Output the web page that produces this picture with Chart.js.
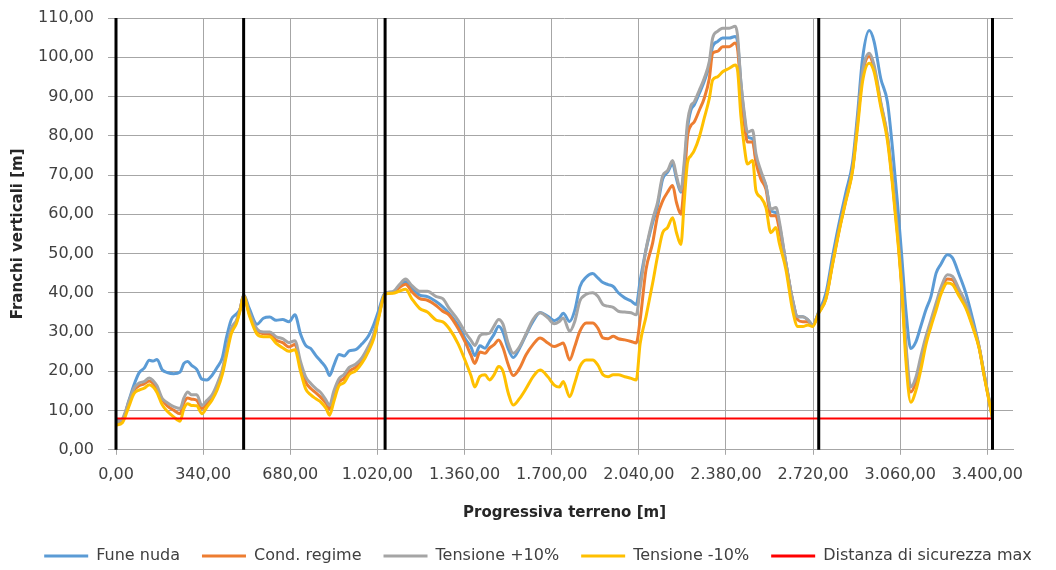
<!DOCTYPE html>
<html>
<head>
<meta charset="utf-8">
<script src="https://cdn.jsdelivr.net/npm/chart.js@4.4.1/dist/chart.umd.min.js"></script>
<style>
  html, body { margin: 0; padding: 0; background: #fff; }
  #wrap { width: 1056px; height: 570px; }
</style>
</head>
<body>
<div id="wrap"><canvas id="franchi" width="1056" height="570"></canvas></div>
<script>
// Progressiva [m]
const progressiva = [
  0, 25, 50, 70, 90, 110, 130, 145, 160, 180,
  200, 225, 250, 265, 280, 295, 315, 335, 355, 375,
  395, 415, 430, 450, 470, 485, 498, 520, 550, 575,
  600, 625, 650, 675, 698, 720, 740, 760, 780, 800,
  820, 833, 850, 870, 890, 910, 935, 960, 985, 1005,
  1025, 1050, 1080, 1105, 1130, 1155, 1185, 1215, 1250, 1275,
  1300, 1335, 1365, 1385, 1400, 1420, 1440, 1457, 1475, 1493,
  1510, 1530, 1550, 1575, 1600, 1627, 1655, 1685, 1710, 1730,
  1745, 1770, 1790, 1810, 1835, 1860, 1880, 1900, 1920, 1940,
  1960, 1985, 2010, 2030, 2045, 2068, 2094, 2113, 2133, 2152,
  2172, 2187, 2204, 2217, 2230, 2243, 2256, 2276, 2295, 2315,
  2328, 2347, 2367, 2393, 2416, 2425, 2438, 2451, 2464, 2484,
  2497, 2516, 2536, 2555, 2575, 2588, 2614, 2640, 2660, 2680,
  2700, 2718, 2742, 2770, 2796, 2822, 2848, 2874, 2893, 2913,
  2939, 2958, 2984, 3010, 3030, 3049, 3066, 3082, 3101, 3121,
  3140, 3160, 3180, 3200, 3218, 3244, 3264, 3290, 3316, 3342,
  3368, 3387, 3400, 3420
];

const funeNuda = [
  7.5, 7.6, 12.5, 16.5, 19.6, 20.8, 22.8, 22.6, 23.0, 20.4,
  19.7, 19.4, 19.8, 22.0, 22.5, 21.5, 20.5, 18.0, 17.8, 19.0,
  21.0, 23.5, 28.3, 33.2, 34.6, 36.0, 39.5, 36.0, 32.0, 33.5,
  33.8, 33.0, 33.2, 32.6, 34.4, 29.5, 26.6, 25.8, 24.0, 22.5,
  20.8, 18.9, 21.5, 24.3, 23.9, 25.2, 25.5, 27.0, 29.0, 31.8,
  35.5, 40.0, 40.2, 41.5, 42.8, 41.0, 39.4, 39.0, 37.7, 36.4,
  34.7, 31.7, 28.0, 26.2, 24.0, 26.5, 25.9, 27.6, 29.4, 31.5,
  30.0, 25.8, 23.5, 25.9, 29.3, 32.7, 35.0, 34.0, 32.9, 33.6,
  34.8, 32.7, 35.5, 41.5, 44.0, 44.9, 43.8, 42.6, 42.1, 41.6,
  40.0, 38.7, 37.9, 37.0, 43.0, 51.0, 57.9, 62.1, 69.0, 70.7,
  72.8, 69.0, 65.6, 71.5, 81.8, 86.5, 87.8, 90.8, 93.8, 98.0,
  102.7, 104.0, 104.9, 104.9, 105.3, 104.0, 93.8, 85.2, 79.7, 79.2,
  74.1, 70.3, 67.3, 60.9, 60.4, 57.4, 47.6, 38.2, 33.9, 33.9,
  33.1, 31.8, 35.2, 39.9, 49.3, 57.9, 65.6, 73.2, 85.2, 99.7,
  106.8, 104.0, 94.6, 88.6, 76.7, 63.0, 49.3, 35.6, 25.8, 27.5,
  31.4, 35.6, 39.1, 45.0, 47.2, 49.7, 48.9, 44.6, 39.9, 33.5,
  26.2, 19.4, 15.1, 8.3
];

const condRegime = [
  6.8, 7.5, 12.0, 15.1, 16.3, 16.8, 17.5, 16.9, 15.6, 12.8,
  11.2, 10.1, 9.2, 12.0, 13.2, 12.9, 12.6, 10.5, 11.8, 13.3,
  16.3, 20.0, 24.5, 30.5, 32.6, 36.0, 39.3, 34.7, 30.4, 29.6,
  29.4, 27.9, 27.3, 26.2, 26.8, 21.5, 17.3, 15.6, 14.5, 13.3,
  11.8, 10.4, 14.0, 17.2, 18.2, 20.0, 21.0, 23.0, 25.8, 29.0,
  34.0, 39.8, 40.0, 41.3, 42.2, 40.2, 38.5, 38.1, 36.7, 35.3,
  34.3, 30.9, 27.1, 24.1, 22.0, 24.9, 24.6, 25.9, 26.8, 28.0,
  26.0, 21.8, 18.9, 20.8, 24.2, 26.8, 28.5, 27.2, 26.3, 26.8,
  27.2, 22.9, 26.3, 30.2, 32.3, 32.3, 31.0, 28.5, 28.3, 28.9,
  28.3, 28.0, 27.6, 27.2, 33.0, 45.9, 52.7, 59.6, 63.4, 65.6,
  67.3, 63.0, 60.0, 68.2, 79.7, 82.6, 83.5, 86.5, 89.5, 94.6,
  101.0, 101.5, 102.7, 102.7, 103.6, 102.3, 92.0, 83.5, 78.4, 78.4,
  73.2, 69.0, 66.4, 59.6, 59.6, 56.2, 47.3, 37.8, 33.1, 32.6,
  32.6, 31.6, 34.9, 38.6, 47.6, 56.2, 63.8, 71.5, 83.0, 95.5,
  100.2, 97.2, 88.2, 79.7, 68.2, 55.3, 41.6, 25.5, 14.7, 17.3,
  22.8, 27.9, 32.2, 36.6, 40.3, 43.5, 43.3, 39.9, 36.6, 31.8,
  26.0, 19.2, 14.8, 8.1
];

const tensionePiu = [
  7.0, 7.9, 12.3, 15.6, 17.0, 17.4, 18.3, 17.6, 16.3, 13.1,
  12.0, 11.0, 10.5, 13.2, 14.7, 14.0, 14.0, 11.3, 12.6, 14.0,
  16.8, 20.5, 24.9, 30.9, 33.0, 36.0, 39.4, 35.1, 30.8, 30.0,
  30.0, 28.8, 28.3, 27.3, 27.8, 22.5, 18.6, 16.9, 15.6, 14.5,
  12.6, 11.3, 15.0, 18.1, 19.2, 21.0, 21.8, 23.5, 26.4, 29.3,
  34.2, 39.9, 40.3, 42.0, 43.5, 41.8, 40.4, 40.4, 39.0, 38.5,
  36.0, 33.0, 29.7, 27.9, 26.6, 29.1, 29.5, 29.7, 31.5, 33.2,
  32.0, 27.2, 24.6, 26.3, 29.5, 33.2, 34.9, 33.6, 32.1, 32.7,
  33.6, 30.2, 32.7, 37.9, 39.6, 40.0, 39.1, 37.0, 36.6, 36.3,
  35.3, 35.1, 34.9, 34.4, 41.0, 51.0, 58.7, 63.0, 69.8, 71.1,
  73.7, 69.8, 66.0, 73.2, 83.5, 87.6, 88.6, 91.6, 94.6, 98.9,
  104.9, 106.6, 107.4, 107.4, 107.9, 105.7, 93.8, 86.1, 80.9, 81.4,
  75.4, 71.1, 67.3, 61.3, 61.7, 58.3, 47.6, 38.2, 33.9, 33.9,
  33.1, 31.8, 35.0, 38.6, 47.6, 56.2, 63.8, 71.5, 83.5, 96.3,
  101.0, 98.0, 88.6, 80.1, 69.0, 56.2, 42.5, 27.1, 16.0, 18.5,
  23.7, 28.8, 33.1, 37.4, 41.2, 44.6, 44.2, 40.8, 37.4, 32.2,
  26.2, 19.4, 15.0, 8.2
];

const tensioneMeno = [
  6.3, 6.9, 11.0, 14.3, 15.2, 15.7, 16.6, 16.0, 14.6, 11.5,
  9.8, 8.4, 7.3, 10.5, 11.7, 11.3, 11.2, 9.2, 10.9, 12.7,
  15.3, 19.2, 23.7, 29.6, 32.2, 35.6, 39.1, 34.3, 29.5, 28.8,
  28.8, 27.1, 26.0, 25.1, 25.5, 20.0, 15.5, 14.0, 13.0, 12.1,
  10.5, 8.8, 12.3, 16.3, 17.1, 19.2, 20.1, 22.1, 25.1, 28.2,
  33.6, 39.7, 39.9, 40.4, 40.9, 38.4, 36.0, 35.1, 33.0, 32.6,
  30.9, 27.0, 22.3, 18.9, 16.0, 18.7, 19.1, 17.8, 19.1, 21.2,
  20.0, 14.6, 11.4, 13.1, 15.6, 18.6, 20.3, 18.6, 16.5, 16.0,
  17.4, 13.5, 17.0, 21.2, 22.9, 22.9, 21.6, 19.1, 18.6, 19.1,
  19.1, 18.6, 18.2, 17.8, 27.0, 33.9, 42.5, 49.3, 55.3, 56.6,
  59.1, 55.3, 52.3, 63.0, 73.2, 74.9, 76.2, 79.7, 84.4, 89.5,
  94.2, 95.0, 96.3, 97.2, 98.0, 96.8, 85.2, 77.5, 72.8, 73.7,
  66.0, 64.3, 61.7, 55.3, 56.6, 52.7, 45.9, 35.6, 31.4, 31.4,
  31.8, 31.4, 34.8, 38.4, 47.2, 55.8, 63.4, 71.0, 81.8, 93.8,
  98.5, 96.3, 87.4, 78.8, 67.3, 54.4, 40.8, 22.8, 12.1, 15.1,
  20.3, 26.7, 31.4, 35.6, 39.5, 42.5, 42.1, 39.1, 36.1, 31.4,
  25.8, 19.0, 14.6, 8.0
];

// posizione sostegni e distanza di sicurezza
const sostegni = [0, 498, 1050, 2742, 3420];
const distanzaSicurezza = 8;

const xTicks = [0, 340, 680, 1020, 1360, 1700, 2040, 2380, 2720, 3060, 3400];
const yTicks = [0, 10, 20, 30, 40, 50, 60, 70, 80, 90, 100, 110];
const xMax = 3500;

// formato italiano 1.020,00
function fmt(v) {
  const parts = Number(v).toFixed(2).split(".");
  parts[0] = parts[0].replace(/\B(?=(\d{3})+(?!\d))/g, ".");
  return parts[0] + "," + parts[1];
}

const pts = ys => progressiva.map((x, i) => ({ x: x, y: ys[i] }));

function serie(label, ys, color, order) {
  return {
    label: label,
    data: pts(ys),
    borderColor: color,
    backgroundColor: color,
    borderWidth: 3,
    pointRadius: 0,
    cubicInterpolationMode: "monotone",
    order: order
  };
}

Chart.defaults.font.family = "DejaVu Sans";

const datasets = [
  serie("Fune nuda", funeNuda, "#5b9bd5", 5),
  serie("Cond. regime", condRegime, "#ed7d31", 4),
  serie("Tensione +10%", tensionePiu, "#a5a5a5", 3),
  serie("Tensione -10%", tensioneMeno, "#ffc000", 2),
  {
    label: "Distanza di sicurezza max",
    data: [
      { x: sostegni[0], y: distanzaSicurezza },
      { x: sostegni[sostegni.length - 1], y: distanzaSicurezza }
    ],
    borderColor: "#ff0000",
    backgroundColor: "#ff0000",
    borderWidth: 2,
    pointRadius: 0,
    order: 1
  }
];

// linee verticali dei sostegni
sostegni.forEach(s => {
  datasets.push({
    label: "sostegno",
    data: [{ x: s, y: yTicks[0] }, { x: s, y: yTicks[yTicks.length - 1] }],
    borderColor: "#000000",
    borderWidth: 3,
    pointRadius: 0,
    clip: false,
    order: 0
  });
});

const ctx = document.getElementById("franchi").getContext("2d");
new Chart(ctx, {
  type: "line",
  data: { datasets: datasets },
  options: {
    responsive: false,
    animation: false,
    layout: { padding: { left: 20, right: 0, top: 18, bottom: -4 } },
    plugins: {
      tooltip: { enabled: false },
      legend: {
        position: "bottom",
        labels: {
          boxWidth: 44,
          boxHeight: 3,
          padding: 22,
          color: "#404040",
          font: { size: 16 },
          generateLabels: chart => {
            const items = Chart.defaults.plugins.legend.labels.generateLabels(chart);
            items.forEach(it => { it.fillStyle = it.strokeStyle; it.lineWidth = 0; });
            return items.filter(it => it.datasetIndex < 5);
          },
          sort: (a, b) => a.datasetIndex - b.datasetIndex
        }
      }
    },
    scales: {
      x: {
        type: "linear",
        min: 0,
        max: xMax,
        afterBuildTicks: s => { s.ticks = xTicks.map(v => ({ value: v })); },
        grid: { color: "#a6a6a6", tickLength: 5 },
        border: { color: "#a6a6a6" },
        ticks: {
          padding: 10,
          maxRotation: 0,
          autoSkip: false,
          color: "#404040",
          font: { size: 16 },
          callback: v => fmt(v)
        },
        title: {
          display: true,
          text: "Progressiva terreno [m]",
          color: "#262626",
          font: { size: 15, weight: "bold" },
          padding: { top: 10, bottom: 4 }
        }
      },
      y: {
        min: 0,
        max: 110,
        afterBuildTicks: s => { s.ticks = yTicks.map(v => ({ value: v })); },
        afterFit: s => { s.width = 96; s.paddingTop = 10; s.paddingBottom = 10; },
        grid: { color: "#a6a6a6", tickLength: 8 },
        border: { display: false },
        ticks: {
          padding: 14,
          color: "#404040",
          font: { size: 16 },
          callback: v => fmt(v)
        },
        title: {
          display: true,
          text: "Franchi verticali [m]",
          color: "#262626",
          font: { size: 15, weight: "bold" },
          padding: { top: -11, bottom: 0 }
        }
      },
      y2: {
        position: "right",
        display: true,
        grid: { display: false },
        border: { display: false },
        ticks: { display: false },
        afterFit: s => { s.width = 43; }
      }
    }
  }
});
</script>
</body>
</html>
